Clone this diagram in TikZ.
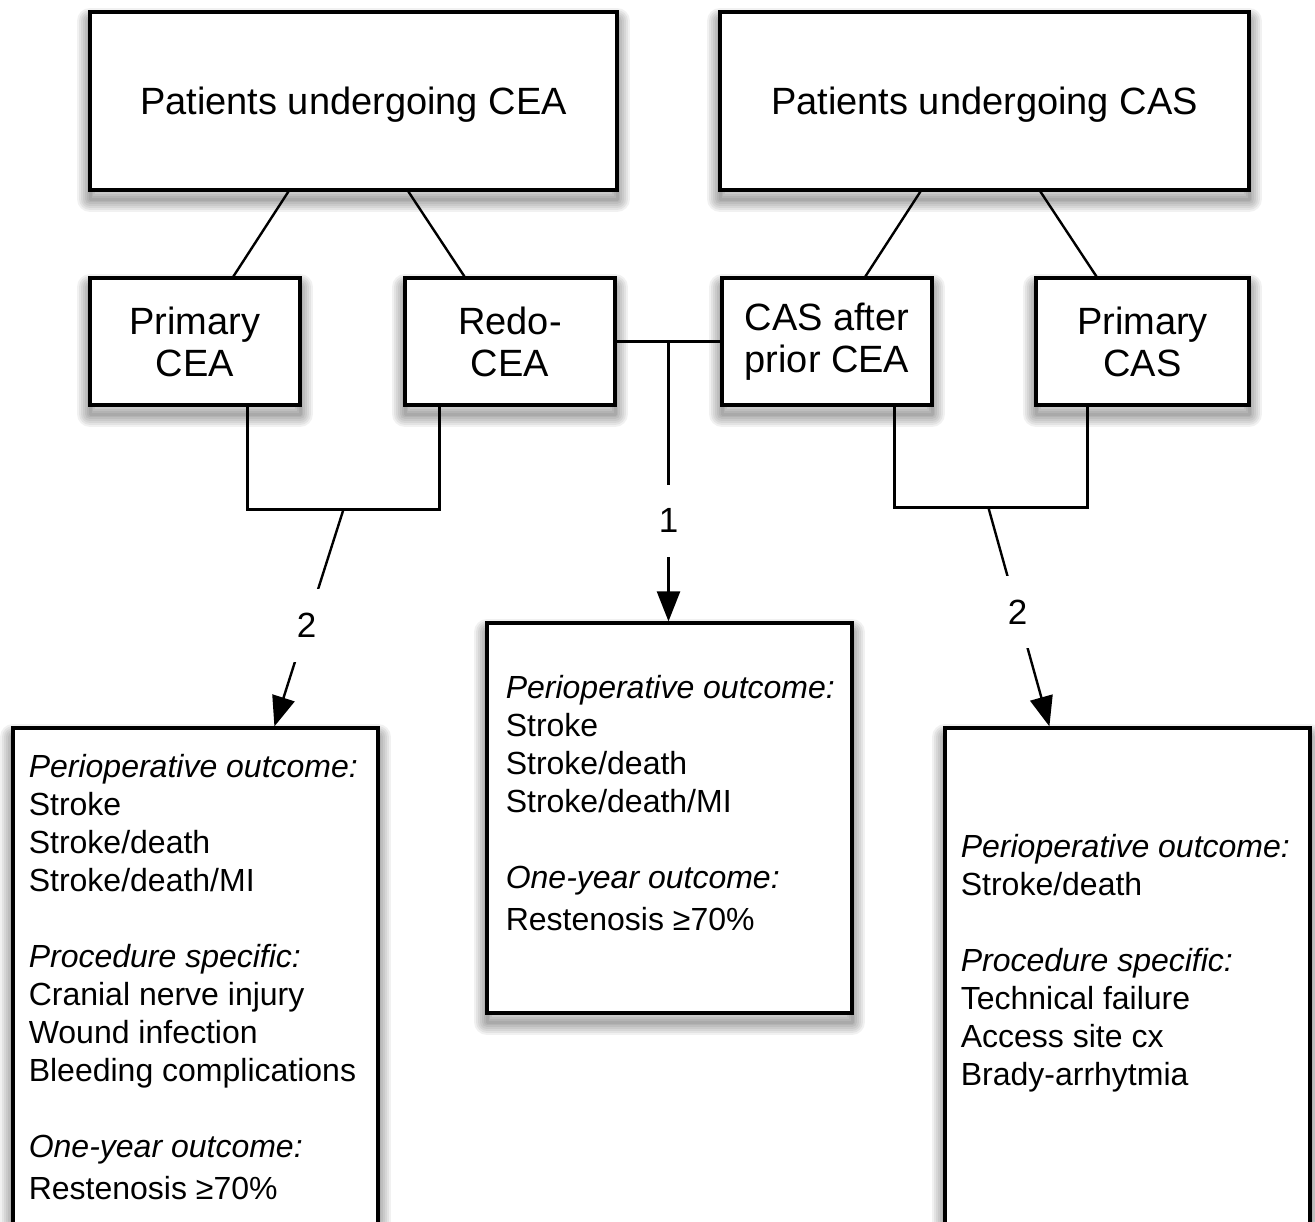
\documentclass[tikz,border=0pt]{standalone}
\usepackage{fontspec}
\setmainfont{Liberation Sans}
\usetikzlibrary{arrows.meta,calc}
\begin{document}
\begin{tikzpicture}[x=0.5pt,y=-0.5pt,
  shl/.style={preaction={draw=black, draw opacity=0.055, line join=round, line width=#1, transform canvas={yshift=-4.5pt}}},
  softshadow/.style={shl=13pt, shl=11pt, shl=9pt, shl=7pt, shl=5pt, shl=3pt, shl=1.5pt},
  box/.style={draw=black, line width=1.6pt, fill=white, inner sep=0pt, align=center, softshadow},
  bigtxt/.style={font=\fontsize{19}{21}\selectfont},
  txt/.style={inner sep=0pt, align=left, anchor=north west, font=\fontsize{16}{19}\selectfont},
  conn/.style={line width=1.2pt},
  arr/.style={conn, -{Triangle[length=15pt,width=11.5pt]}},
  lab/.style={fill=white, inner xsep=6pt, inner ysep=12pt, font=\fontsize{17.5}{17.5}\selectfont}]
\useasboundingbox (0,0) rectangle (1315,1221);
\clip (0,0) rectangle (1315,1221);
\fill[white] (0,0) rectangle (1315,1221);

% top boxes
\node[box, bigtxt, text depth=0pt, minimum width=263.5pt, minimum height=89pt] (cea) at (353.5,101) {Patients undergoing CEA};
\node[box, bigtxt, text depth=0pt, minimum width=264.5pt, minimum height=89pt] (cas) at (984.5,101) {Patients undergoing CAS};
% second row
\node[box, bigtxt, minimum width=105pt, minimum height=63.5pt] (pcea) at (195,341.5) {Primary\\CEA};
\node[box, bigtxt, minimum width=105pt, minimum height=63.5pt] (redo) at (510,341.5) {Redo-\\CEA};
\node[box, bigtxt, minimum width=105pt, minimum height=63.5pt] (casprior) at (827,341.5) {CAS after\\prior CEA};
\node[box, bigtxt, minimum width=106.5pt, minimum height=63.5pt] (pcas) at (1142.5,341.5) {Primary\\CAS};
% outcome boxes
\node[box, minimum width=182.5pt, minimum height=266pt] (outL) at (195.5,994) {};
\node[box, minimum width=182.5pt, minimum height=195pt] (outM) at (669.5,818) {};
\node[box, minimum width=182.5pt, minimum height=266pt] (outR) at (1127.5,994) {};

\node[txt] (tL) at ($(outL.north west)+(17,27)$) {\textit{Perioperative outcome:}\\ Stroke\\ Stroke/death\\ Stroke/death/MI\\[19pt] \textit{Procedure specific:}\\ Cranial nerve injury\\ Wound infection\\ Bleeding complications\\[19pt] \textit{One-year outcome:}\\[2pt] Restenosis ≥70\%};
\node[txt] (tM) at ($(outM.north west)+(20,53)$) {\textit{Perioperative outcome:}\\ Stroke\\ Stroke/death\\ Stroke/death/MI\\[19pt] \textit{One-year outcome:}\\[2pt] Restenosis ≥70\%};
\node[txt] (tR) at ($(outR.north west)+(17,107)$) {\textit{Perioperative outcome:}\\ Stroke/death\\[19pt] \textit{Procedure specific:}\\ Technical failure\\ Access site cx\\ Brady-arrhytmia};

% tree connectors
\draw[conn] ($(cea.south west)+(200,0)$) -- ($(pcea.north west)+(145,0)$);
\draw[conn] ($(cea.south west)+(320,0)$) -- ($(redo.north west)+(61,0)$);
\draw[conn] ($(cas.south west)+(202,0)$) -- ($(casprior.north west)+(145,0)$);
\draw[conn] ($(cas.south west)+(322,0)$) -- ($(pcas.north west)+(62,0)$);

% left bracket
\draw[conn] ($(pcea.south west)+(159,0)$) |- ($(redo.south west)+(36,103)$) -- ($(redo.south west)+(36,0)$);
\coordinate (bkL) at ($(pcea.south west)+(255,103)$);
\draw[arr] (bkL) -- node[lab, pos=0.535] (l2a) {2} ($(outL.north west)+(263,0)$);

% middle
\draw[conn] (redo.east) -- (casprior.west);
\coordinate (mj) at ($(redo.east)!0.5!(casprior.west)$);
\draw[arr] (mj) -- node[lab, pos=0.64] (l1) {1} (mj |- outM.north);

% right bracket
\draw[conn] ($(casprior.south west)+(174,0)$) |- ($(pcas.south west)+(53,101)$) -- ($(pcas.south west)+(53,0)$);
\coordinate (bkR) at ($(casprior.south west)+(268,101)$);
\draw[arr] (bkR) -- node[lab, pos=0.477] (l2b) {2} ($(outR.north west)+(106,0)$);
\end{tikzpicture}
\end{document}
